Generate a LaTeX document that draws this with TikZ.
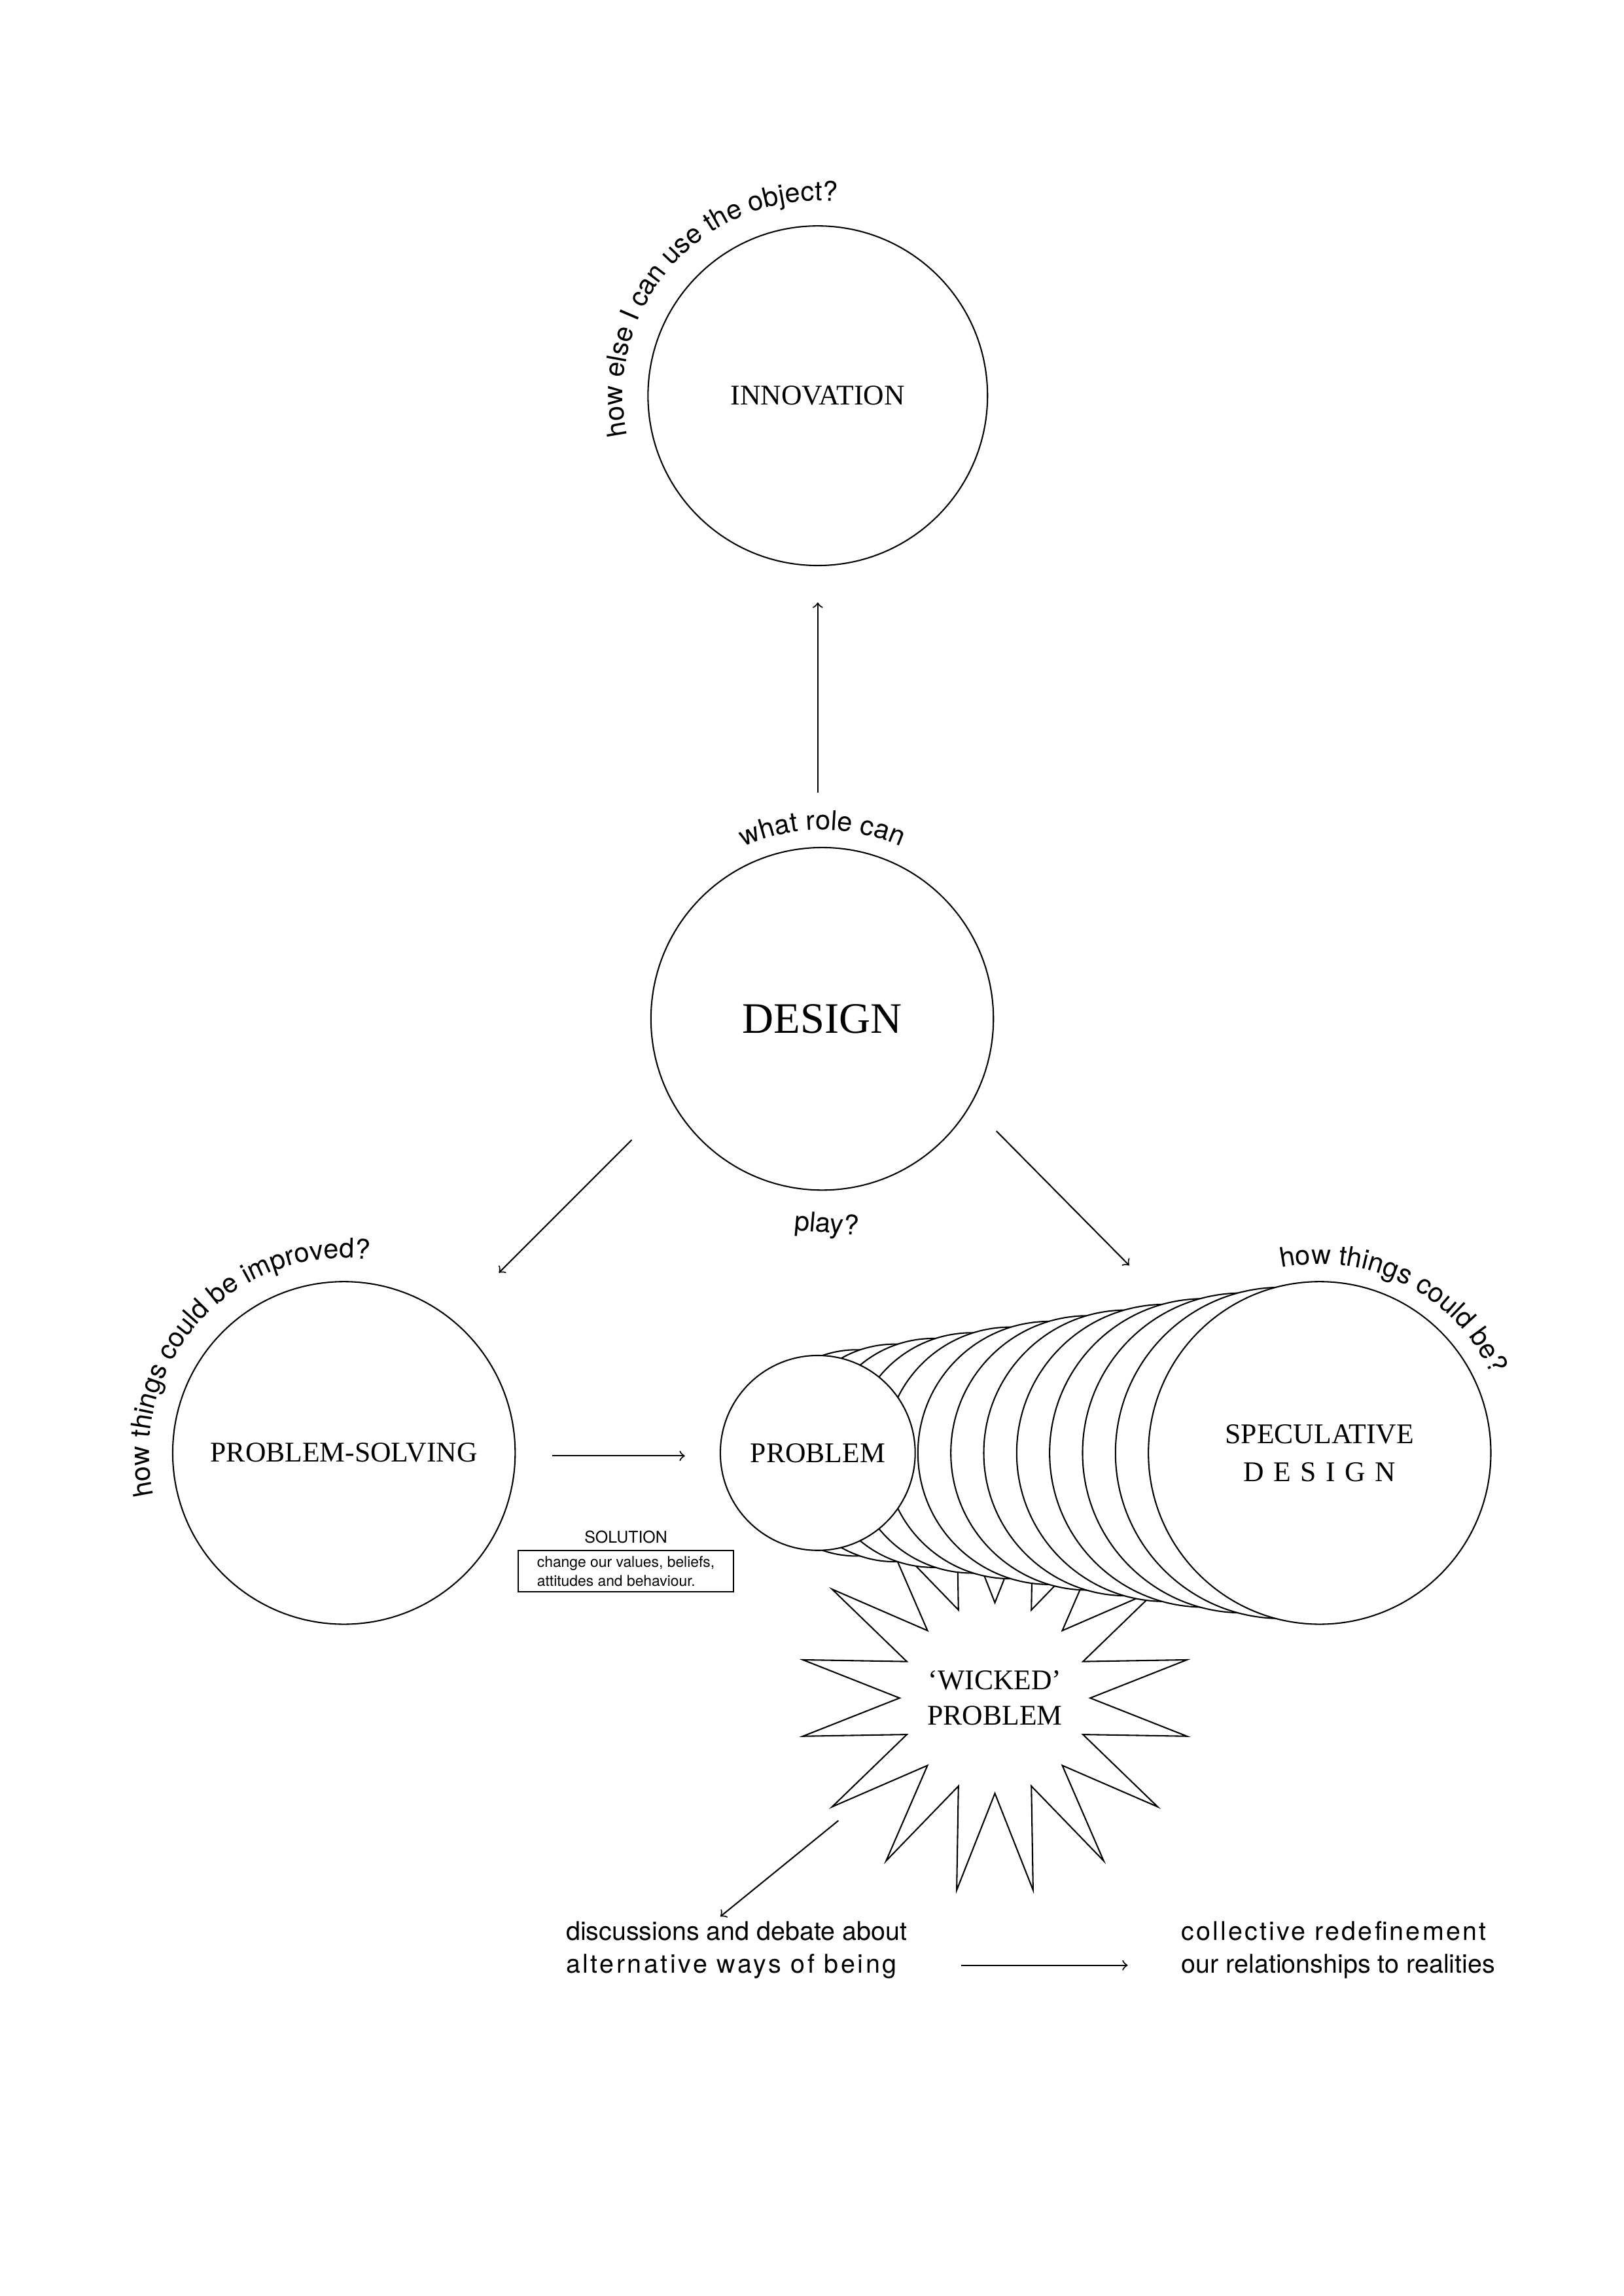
\documentclass[tikz,border=0pt]{standalone}
\usepackage{fontspec}
\setmainfont{Liberation Serif}
\setsansfont{TeX Gyre Heros}
\usetikzlibrary{shapes.geometric,decorations.text}
\begin{document}
\begin{tikzpicture}[x=0.01909cm, y=-0.01909cm, line width=0.5pt,
	every node/.style={inner sep=0pt},
	ring/.style={draw, circle, fill=white, minimum size=#1*0.03818cm},
	sans/.style={font=\sffamily\fontsize{9.5}{12}\selectfont},
	arc text/.style={decorate, decoration={text along path, text align=center,
		text={|\sffamily\fontsize{10}{12}\selectfont|#1}}},
	link/.style={->, >=to}]
	\useasboundingbox (0,0) rectangle (1100,1555);
	
	% \tubering#x#y#radius
	\def\tubering#1#2#3{
		\node[ring=#3] at (#1, #2) {};
	}
	
	% main circles
	\node[ring=115] (innovation) at (554,268) {\fontsize{10.5}{13}\selectfont INNOVATION};
	\node[ring=116] (design) at (557,690) {\fontsize{16}{20}\selectfont DESIGN};
	\node[ring=116] (solving) at (233,984) {\fontsize{10.5}{13}\selectfont PROBLEM-SOLVING};
	
	% wicked problem
	\node[draw, star, star points=16, star point height=1.3cm, minimum size=4.6cm,
		shape border rotate=11.25, fill=white, align=center, font=\fontsize{10.5}{13}\selectfont]
		(wicked) at (674,1150) {`WICKED'\\PROBLEM};
	
	% tube of rings
	\foreach \i in {1,...,12}{
		\pgfmathsetmacro\cx{554+340*\i/13}
		\pgfmathsetmacro\rr{66+50*\i/13}
		\tubering{\cx}{984}{\rr}
	}
	\node[ring=116, align=center, font=\fontsize{10.5}{14}\selectfont] (speculative) at (894,984)
		{SPECULATIVE\\D\,\,E\,\,S\,\,I\,\,G\,\,N};
	\node[ring=66, font=\fontsize{10.5}{13}\selectfont] (problem) at (554,984) {PROBLEM};
	
	% curved questions
	\path[arc text={how else I can use the object?}] (554,268) ++(-198:132) arc (-198:-78:132);
	\path[arc text={what role can}] (557,690) ++(-113:128) arc (-113:-67:128);
	\node[sans, rotate=-5] (play) at (560,830) {\fontsize{10}{12}\selectfont play?};
	\path[arc text={how things could be improved?}] (233,984) ++(-197:132) arc (-197:-78:132);
	\path[arc text={how things could be?}] (894,984) ++(-100:128) arc (-100:-26:128);
	
	% solution
	\node[sans, font=\sffamily\fontsize{6}{8}\selectfont] (solutiontitle) at (424,1041) {SOLUTION};
	\node[draw, align=left, inner xsep=7pt, inner ysep=2pt, font=\sffamily\fontsize{5.5}{7}\selectfont]
		(solution) at (424,1064) {change our values, beliefs,\\attitudes and behaviour.};
	
	% outcomes
	\node[sans, anchor=north west, align=left] (debate) at (383,1301)
		{discussions and debate about\\{\addfontfeatures{LetterSpace=9}alternative ways of being}};
	\node[sans, anchor=north west, align=left] (redefine) at (800,1301)
		{{\addfontfeatures{LetterSpace=8}collective redefinement}\\our relationships to realities};
	
	% arrows
	\coordinate (a1) at (554,537);  \coordinate (b1) at (554,408);
	\coordinate (a2) at (428,772);  \coordinate (b2) at (338,862);
	\coordinate (a3) at (675,766);  \coordinate (b3) at (765,857);
	\coordinate (a4) at (374,986);  \coordinate (b4) at (464,986);
	\coordinate (a5) at (568,1233); \coordinate (b5) at (488,1298);
	\coordinate (a6) at (651,1331); \coordinate (b6) at (764,1331);
	\foreach \k in {1,...,6}
		\draw[link] (a\k) -- (b\k);
\end{tikzpicture}
\end{document}
